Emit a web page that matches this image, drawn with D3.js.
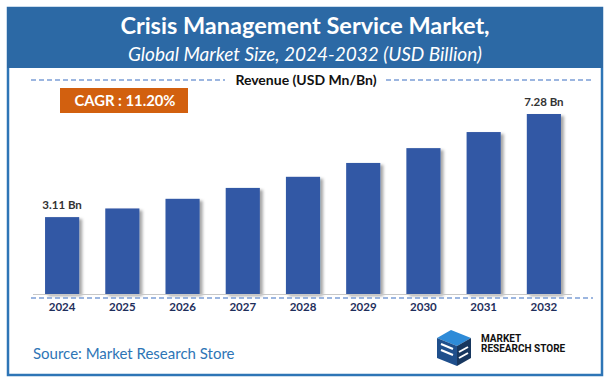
<!DOCTYPE html>
<html lang="en">
    <head>
        <meta charset="utf-8">
        <title>Crisis Management Service Market</title>
        <script type="text/javascript" src="https://cdn.jsdelivr.net/npm/d3@7"></script>
        <style>
        body { margin: 0; background: #fff; }
        svg { display: block; }
        </style>
    </head>
    <body>
        <script type="text/javascript">
            // chart data
            var years = ["2024", "2025", "2026", "2027", "2028", "2029", "2030", "2031", "2032"];
            var revenue = [3.11, 3.46, 3.85, 4.29, 4.74, 5.30, 5.90, 6.55, 7.28];
            var labelled = ["2024", "2032"];   // only first and last get a value label

            var w = 611;
            var h = 385;
            var baseY = 294;
            var font = "Lato, 'Open Sans', sans-serif";

            var svg = d3.select("body")
                        .append("svg")
                        .attr("width", w)
                        .attr("height", h);

            var defs = svg.append("defs");
            var shadow = defs.append("filter")
                             .attr("id", "shadow")
                             .attr("x", "-20%").attr("y", "-10%")
                             .attr("width", "150%").attr("height", "130%");
            shadow.append("feDropShadow")
                  .attr("dx", 3).attr("dy", 2)
                  .attr("stdDeviation", 1.6)
                  .attr("flood-color", "#000")
                  .attr("flood-opacity", 0.35);

            // frame + title banner
            svg.append("rect")
               .attr("x", 8).attr("y", 8)
               .attr("width", 594).attr("height", 367)
               .attr("fill", "#fff")
               .attr("stroke", "#2E75B6")
               .attr("stroke-width", 2.5);

            svg.append("rect")
               .attr("x", 7).attr("y", 7)
               .attr("width", 596).attr("height", 61)
               .attr("fill", "#2C69A5");

            svg.append("text")
               .attr("x", 305).attr("y", 34)
               .attr("text-anchor", "middle")
               .attr("font-family", font)
               .attr("font-weight", "bold")
               .attr("font-size", "23.5px")
               .attr("fill", "#fff")
               .text("Crisis Management Service Market,");

            svg.append("text")
               .attr("x", 305).attr("y", 61)
               .attr("text-anchor", "middle")
               .attr("font-family", font)
               .attr("font-style", "italic")
               .attr("font-size", "19px")
               .attr("fill", "#fff")
               .text("Global Market Size, 2024-2032 (USD Billion)");

            // "Revenue" header with dashed rules
            svg.append("line")
               .attr("x1", 31).attr("x2", 225)
               .attr("y1", 80).attr("y2", 80)
               .attr("stroke", "#7C9ED6")
               .attr("stroke-width", 1.3)
               .attr("stroke-dasharray", "5,3");
            svg.append("line")
               .attr("x1", 386).attr("x2", 593)
               .attr("y1", 80).attr("y2", 80)
               .attr("stroke", "#7C9ED6")
               .attr("stroke-width", 1.3)
               .attr("stroke-dasharray", "5,3");
            svg.append("text")
               .attr("x", 306).attr("y", 85)
               .attr("text-anchor", "middle")
               .attr("font-family", font)
               .attr("font-weight", "bold")
               .attr("font-size", "14px")
               .attr("fill", "#111")
               .text("Revenue (USD Mn/Bn)");

            // CAGR badge
            svg.append("rect")
               .attr("x", 60).attr("y", 88)
               .attr("width", 128).attr("height", 25)
               .attr("fill", "#D2600F");
            svg.append("text")
               .attr("x", 125).attr("y", 106)
               .attr("text-anchor", "middle")
               .attr("font-family", font)
               .attr("font-weight", "bold")
               .attr("font-size", "14.8px")
               .attr("fill", "#fff")
               .text("CAGR : 11.20%");

            // scales
            var xScale = d3.scaleBand()
                           .domain(years)
                           .range([33, 573])
                           .paddingInner(0.433)
                           .paddingOuter(0.2);

            var yScale = d3.scaleLinear()
                           .domain([0, d3.max(revenue)])
                           .range([baseY, 114]);

            var data = years.map(function(y, i) { return { year: y, value: revenue[i] }; });

            svg.selectAll("rect.bar")
               .data(data)
               .enter()
               .append("rect")
               .attr("class", "bar")
               .attr("x", function(d) { return xScale(d.year); })
               .attr("y", function(d) { return yScale(d.value); })
               .attr("width", xScale.bandwidth())
               .attr("height", function(d) { return baseY - yScale(d.value); })
               .attr("fill", "#3358A5")
               .attr("filter", "url(#shadow)");

            // gray baseline
            svg.append("line")
               .attr("x1", 33).attr("x2", 572)
               .attr("y1", baseY + 0.5).attr("y2", baseY + 0.5)
               .attr("stroke", "#C8C8C8")
               .attr("stroke-width", 1);

            // dashed rule under bars
            svg.append("line")
               .attr("x1", 31).attr("x2", 593)
               .attr("y1", 298).attr("y2", 298)
               .attr("stroke", "#7C9ED6")
               .attr("stroke-width", 1.3)
               .attr("stroke-dasharray", "5,3");

            var xAxis = d3.axisBottom(xScale).tickSize(0).tickPadding(0);
            var gx = svg.append("g")
                        .attr("transform", "translate(0,303)")
                        .call(xAxis);
            gx.select(".domain").remove();
            gx.selectAll("text")
              .attr("dy", "0.71em")
              .attr("font-family", font)
              .attr("font-weight", "bold")
              .attr("font-size", "11.5px")
              .attr("fill", "#1F2F5C");

            // value labels
            svg.selectAll("text.val")
               .data(data.filter(function(d) { return labelled.indexOf(d.year) >= 0; }))
               .enter()
               .append("text")
               .attr("class", "val")
               .attr("x", function(d) { return xScale(d.year) + xScale.bandwidth() / 2; })
               .attr("y", function(d) { return yScale(d.value) - 8; })
               .attr("text-anchor", "middle")
               .attr("font-family", font)
               .attr("font-weight", "bold")
               .attr("font-size", "11.5px")
               .attr("fill", "#333")
               .text(function(d) { return d.value.toFixed(2) + " Bn"; });

            // footer
            svg.append("text")
               .attr("x", 33).attr("y", 359)
               .attr("font-family", font)
               .attr("font-size", "15px")
               .attr("fill", "#2E75B6")
               .text("Source: Market Research Store");

            // logo
            var logo = svg.append("g").attr("transform", "translate(437,330)");
            logo.append("path")
                .attr("d", "M0,8 L14,0 L34,8 L20,16 Z")
                .attr("fill", "#2E8BD8");
            logo.append("path")
                .attr("d", "M0,8 L20,16 L20,36 L0,28 Z")
                .attr("fill", "#1F4F8C");
            logo.append("path")
                .attr("d", "M20,16 L34,8 L34,28 L20,36 Z")
                .attr("fill", "#17375F");
            logo.append("path")
                .attr("d", "M4,14 L16,19 M4,20 L16,25 M22,22 L31,17 M22,28 L31,23")
                .attr("stroke", "#fff")
                .attr("stroke-width", 2)
                .attr("fill", "none");
            logo.append("text")
                .attr("x", 44).attr("y", 12)
                .attr("font-family", "'Liberation Sans Narrow', 'Roboto', sans-serif")
                .attr("font-weight", "bold")
                .attr("font-size", "10px")
                .attr("fill", "#111")
                .text("MARKET");
            logo.append("text")
                .attr("x", 44).attr("y", 22)
                .attr("font-family", "'Liberation Sans Narrow', 'Roboto', sans-serif")
                .attr("font-weight", "bold")
                .attr("font-size", "10px")
                .attr("fill", "#111")
                .text("RESEARCH STORE");
        </script>
    </body>
</html>
